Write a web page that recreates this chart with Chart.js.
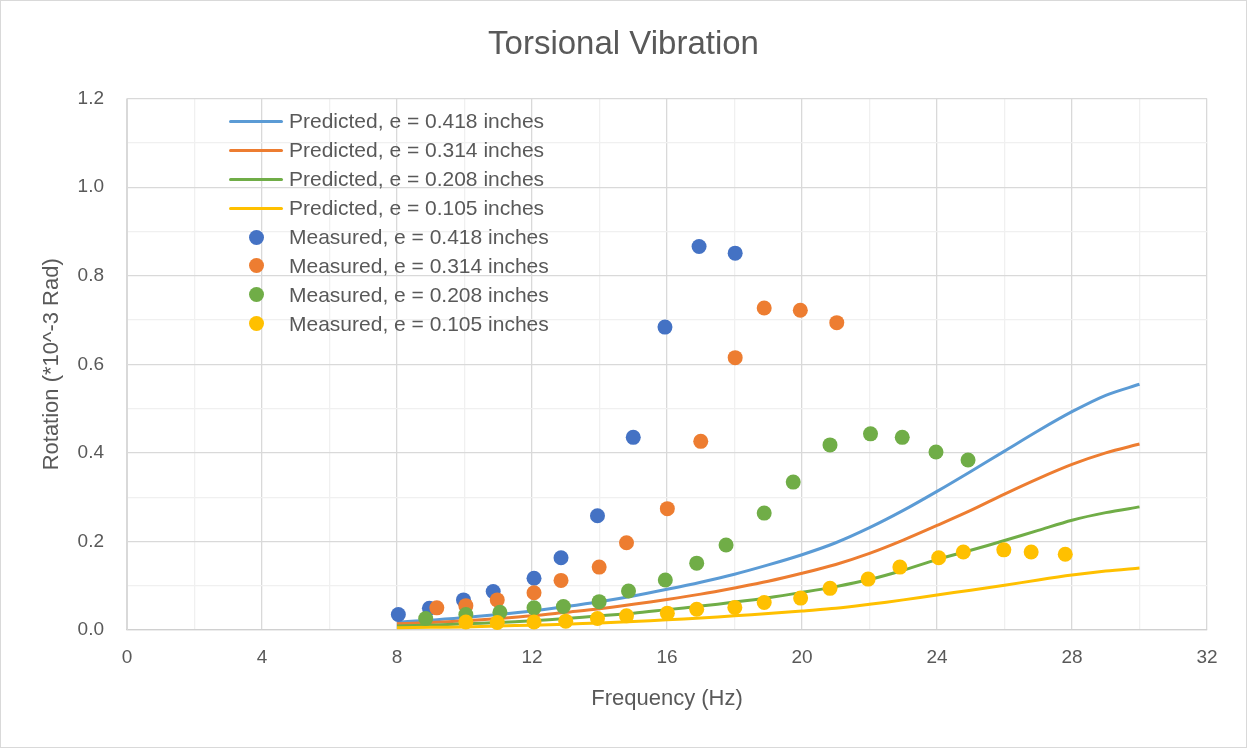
<!DOCTYPE html>
<html>
<head>
<meta charset="utf-8">
<script src="https://cdn.jsdelivr.net/npm/chart.js@4.4.0/dist/chart.umd.min.js"></script>
<style>
  body { margin: 0; background: #fff; font-family: "Liberation Sans", Arial, sans-serif; }
  #wrap { position: relative; width: 1247px; height: 748px; border: 1px solid #d9d9d9; box-sizing: border-box; }
  #legend { position: absolute; left: 228px; top: 106px; color: #595959; font-size: 21px; }
  .row { height: 28.9px; display: flex; align-items: center; white-space: nowrap; }
  .sample { width: 54px; margin-right: 6px; display: flex; justify-content: center; align-items: center; }
  .line { width: 54px; height: 3px; border-radius: 2px; }
  .dot { width: 15px; height: 15px; border-radius: 50%; }
</style>
</head>
<body>
<div id="wrap">
  <canvas id="chart" width="1245" height="746"></canvas>
  <div id="legend"></div>
</div>
<script>
// predicted curves (one value per Hz)
const predFreq = [8, 9, 10, 11, 12, 13, 14, 15, 16, 17, 18, 19, 20, 21, 22, 23, 24, 25, 26, 27, 28, 29, 30];
const pred418 = [0.018, 0.022, 0.028, 0.035, 0.043, 0.053, 0.064, 0.077, 0.092, 0.108, 0.126, 0.147, 0.170, 0.197, 0.231, 0.270, 0.313, 0.358, 0.404, 0.450, 0.493, 0.530, 0.555];
const pred314 = [0.014, 0.017, 0.021, 0.026, 0.032, 0.040, 0.048, 0.058, 0.069, 0.081, 0.095, 0.110, 0.128, 0.148, 0.173, 0.203, 0.236, 0.270, 0.307, 0.342, 0.374, 0.400, 0.420];
const pred208 = [0.009, 0.011, 0.014, 0.017, 0.021, 0.026, 0.032, 0.038, 0.046, 0.054, 0.063, 0.073, 0.085, 0.098, 0.114, 0.135, 0.159, 0.180, 0.202, 0.225, 0.248, 0.265, 0.278];
const pred105 = [0.005, 0.006, 0.007, 0.009, 0.011, 0.013, 0.016, 0.019, 0.023, 0.027, 0.032, 0.037, 0.043, 0.049, 0.058, 0.068, 0.079, 0.090, 0.101, 0.113, 0.124, 0.133, 0.140];

// measured points
const meas418x = [8.04, 8.96, 9.97, 10.85, 12.06, 12.86, 13.94, 15.0, 15.94, 16.95, 18.02];
const meas418y = [0.035, 0.049, 0.068, 0.087, 0.117, 0.163, 0.258, 0.435, 0.684, 0.866, 0.851];
const meas314x = [9.18, 10.04, 10.97, 12.06, 12.86, 13.99, 14.8, 16.01, 17.0, 18.02, 18.88, 19.95, 21.03];
const meas314y = [0.050, 0.055, 0.068, 0.084, 0.112, 0.142, 0.197, 0.274, 0.426, 0.615, 0.727, 0.722, 0.694];
const meas208x = [8.85, 10.04, 11.05, 12.06, 12.93, 13.99, 14.86, 15.95, 16.88, 17.75, 18.88, 19.74, 20.83, 22.03, 22.97, 23.97, 24.92];
const meas208y = [0.026, 0.035, 0.040, 0.050, 0.053, 0.064, 0.088, 0.113, 0.151, 0.192, 0.264, 0.334, 0.418, 0.443, 0.435, 0.402, 0.384];
const meas105x = [10.04, 10.97, 12.06, 13.0, 13.94, 14.8, 16.01, 16.88, 18.01, 18.88, 19.96, 20.83, 21.96, 22.9, 24.05, 24.78, 25.98, 26.79, 27.8];
const meas105y = [0.018, 0.017, 0.018, 0.020, 0.026, 0.032, 0.038, 0.047, 0.051, 0.062, 0.072, 0.094, 0.115, 0.142, 0.163, 0.176, 0.181, 0.176, 0.171];

const xTicks = [0, 4, 8, 12, 16, 20, 24, 28, 32];

const textColor = "#595959";
const fontFamily = "'Liberation Sans', Arial, sans-serif";

function pairs(xs, ys) {
  return xs.map((x, i) => ({ x, y: ys[i] }));
}

function lineSet(label, ys, color, order) {
  return {
    label,
    data: pairs(predFreq, ys),
    showLine: true,
    borderColor: color,
    backgroundColor: color,
    borderWidth: 3,
    pointRadius: 0,
    tension: 0.3,
    order
  };
}

function pointSet(label, xs, ys, color, order) {
  return {
    label,
    data: pairs(xs, ys),
    showLine: false,
    backgroundColor: color,
    borderColor: color,
    borderWidth: 0,
    pointRadius: 7.5,
    order
  };
}

const datasets = [
  lineSet("Predicted, e = 0.418 inches", pred418, "#5B9BD5", 7),
  lineSet("Predicted, e = 0.314 inches", pred314, "#ED7D31", 6),
  lineSet("Predicted, e = 0.208 inches", pred208, "#70AD47", 5),
  lineSet("Predicted, e = 0.105 inches", pred105, "#FFC000", 4),
  pointSet("Measured, e = 0.418 inches", meas418x, meas418y, "#4472C4", 3),
  pointSet("Measured, e = 0.314 inches", meas314x, meas314y, "#ED7D31", 2),
  pointSet("Measured, e = 0.208 inches", meas208x, meas208y, "#70AD47", 1),
  pointSet("Measured, e = 0.105 inches", meas105x, meas105y, "#FFC000", 0)
];

new Chart(document.getElementById("chart"), {
  type: "scatter",
  data: { datasets },
  options: {
    responsive: false,
    animation: false,
    layout: { padding: 0 },
    plugins: {
      legend: { display: false },
      tooltip: { enabled: false },
      title: {
        display: true,
        text: "Torsional Vibration",
        color: textColor,
        font: { family: fontFamily, size: 33, weight: "normal" },
        padding: { top: 24, bottom: 34 }
      }
    },
    scales: {
      x: {
        type: "linear",
        min: 0,
        max: 32,
        afterFit: (scale) => { scale.height = 117; },
        ticks: {
          stepSize: 2,
          autoSkip: false,
          maxRotation: 0,
          padding: 16,
          color: textColor,
          font: { family: fontFamily, size: 19 },
          callback: (v) => (xTicks.includes(v) ? String(v) : "")
        },
        grid: {
          drawTicks: false,
          color: (ctx) => (ctx.tick && ctx.tick.value % 4 === 0 ? "#d9d9d9" : "#f0f0f0"),
          lineWidth: 1.3
        },
        border: { color: "#d0d0d0", width: 1.3 },
        title: {
          display: true,
          text: "Frequency (Hz)",
          color: textColor,
          font: { family: fontFamily, size: 22 },
          padding: { top: 0, bottom: 35 }
        }
      },
      y: {
        min: 0,
        max: 1.2,
        afterFit: (scale) => { scale.width = 126; },
        ticks: {
          stepSize: 0.1,
          autoSkip: false,
          padding: 23,
          color: textColor,
          font: { family: fontFamily, size: 19 },
          callback: (v) => (Math.round(v * 10) % 2 === 0 ? v.toFixed(1) : "")
        },
        grid: {
          drawTicks: false,
          color: (ctx) => (ctx.tick && Math.round(ctx.tick.value * 10) % 2 === 0 ? "#d9d9d9" : "#f0f0f0"),
          lineWidth: 1.3
        },
        border: { color: "#d9d9d9" },
        title: {
          display: true,
          text: "Rotation (*10^-3 Rad)",
          color: textColor,
          font: { family: fontFamily, size: 22 },
          padding: { top: 38, bottom: 0 }
        }
      },
      // empty right axis, only keeps the right margin so the title stays centred
      yRight: {
        position: "right",
        min: 0,
        max: 1.2,
        afterFit: (scale) => { scale.width = 39; },
        ticks: { display: false },
        grid: { display: false, drawOnChartArea: false },
        border: { display: false }
      }
    }
  }
});

// legend as html, placed inside the plot area
const legendEl = document.getElementById("legend");
datasets.forEach(ds => {
  const row = document.createElement("div");
  row.className = "row";
  const mark = ds.showLine
    ? `<div class="line" style="background:${ds.borderColor}"></div>`
    : `<div class="dot" style="background:${ds.backgroundColor}"></div>`;
  row.innerHTML = `<div class="sample">${mark}</div><span>${ds.label}</span>`;
  legendEl.appendChild(row);
});
</script>
</body>
</html>
